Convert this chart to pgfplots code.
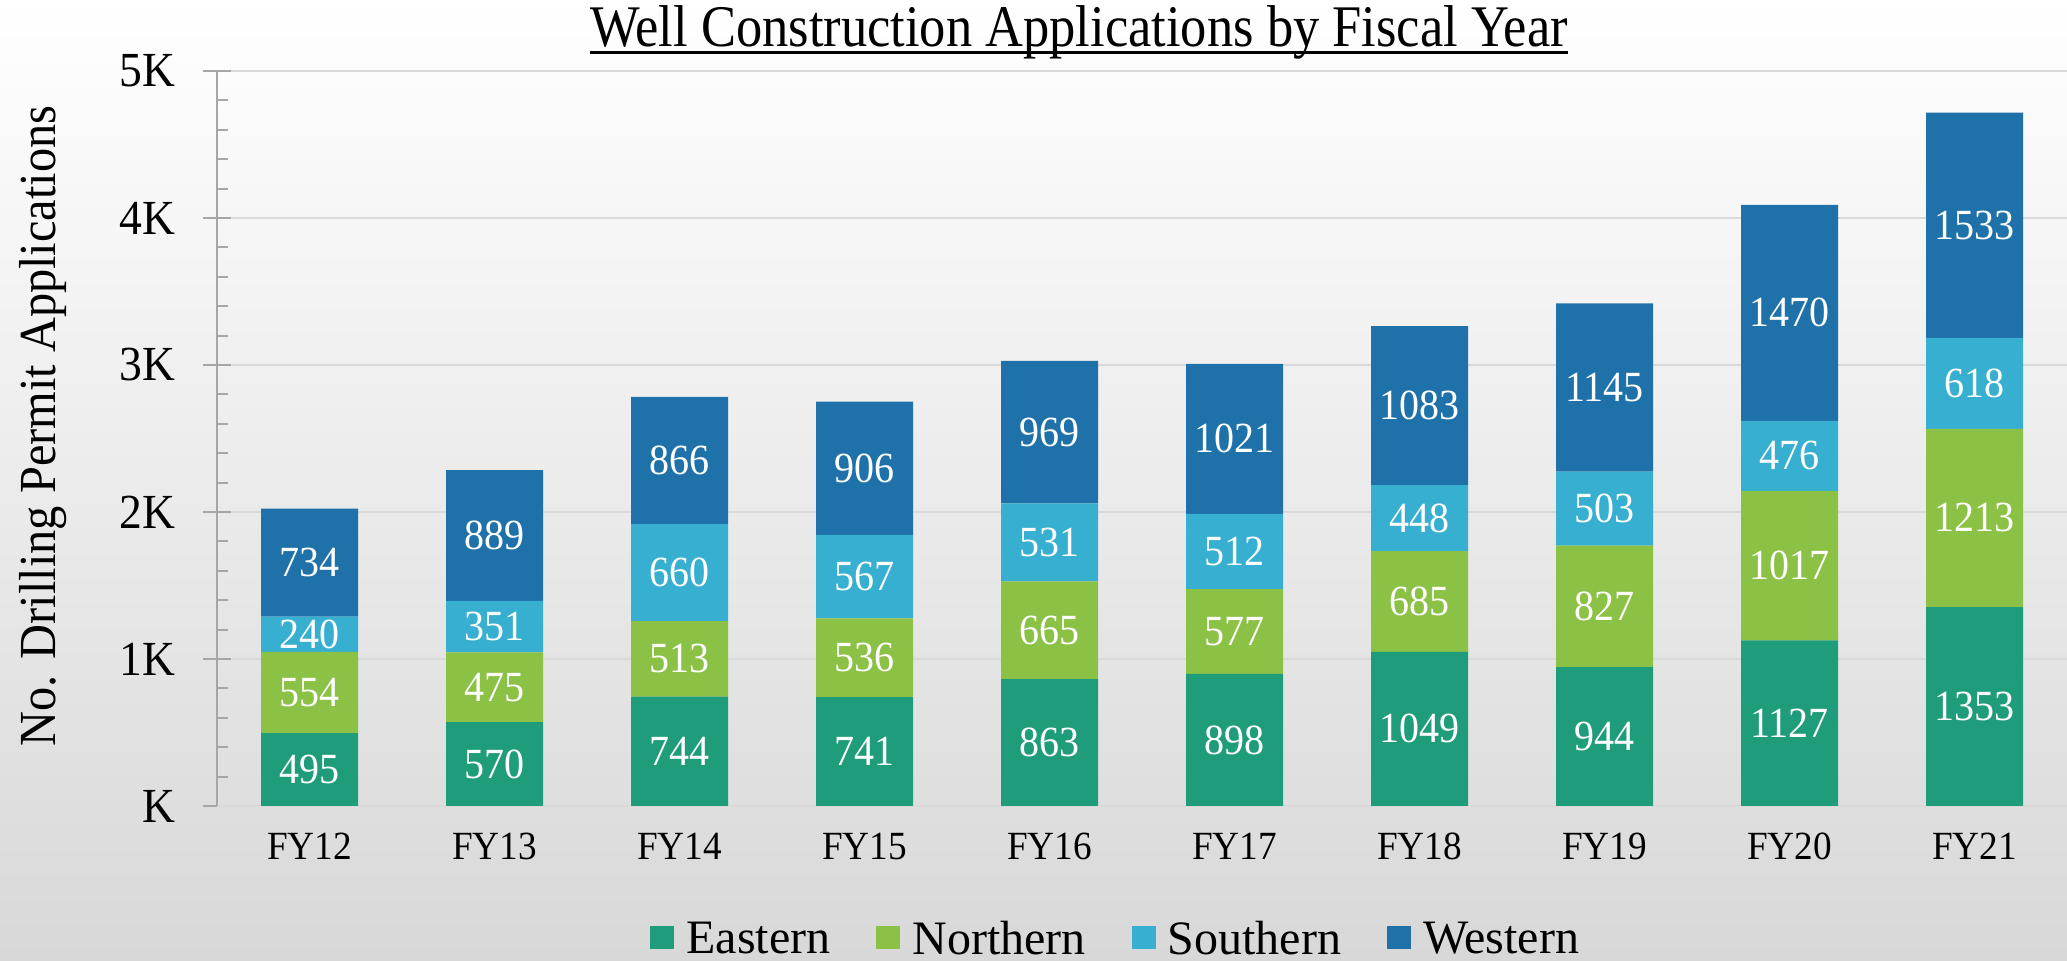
\documentclass[border=0pt]{standalone}
\usepackage{fontspec}
\setmainfont{Liberation Serif}[FakeStretch=0.93]
\newfontfamily\titlefont{Liberation Serif}[FakeStretch=0.89]
\newfontfamily\legfont{Liberation Serif}
\usepackage{pgfplots}
\usepackage{pgfplotstable}
\pgfplotsset{compat=1.18}
\definecolor{cE}{HTML}{1F9D7A}
\definecolor{cN}{HTML}{8BC145}
\definecolor{cS}{HTML}{37AFD0}
\definecolor{cW}{HTML}{1F71AA}
\definecolor{gridc}{HTML}{D9D9D9}
\definecolor{axc}{HTML}{A6A6A6}
\definecolor{bgmid}{HTML}{F2F2F2}
\definecolor{bgbot}{HTML}{D8D8D8}
\pgfplotstableread{
x E N S W
0 495 554 240 734
1 570 475 351 889
2 744 513 660 866
3 741 536 567 906
4 863 665 531 969
5 898 577 512 1021
6 1049 685 448 1083
7 944 827 503 1145
8 1127 1017 476 1470
9 1353 1213 618 1533
}\data
\pgfplotstablecreatecol[create col/expr={\thisrow{E}/2}]{mE}{\data}
\pgfplotstablecreatecol[create col/expr={\thisrow{E}+\thisrow{N}/2}]{mN}{\data}
\pgfplotstablecreatecol[create col/expr={\thisrow{E}+\thisrow{N}+\thisrow{S}/2}]{mS}{\data}
\pgfplotstablecreatecol[create col/expr={\thisrow{E}+\thisrow{N}+\thisrow{S}+\thisrow{W}/2}]{mW}{\data}
\begin{document}
\begin{tikzpicture}
\shade[top color=white, middle color=bgmid, bottom color=bgbot] (0,0) rectangle (1033.5pt,480.5pt);
\useasboundingbox (0,0) rectangle (1033.5pt,480.5pt);
\pgfplotsset{geom/.style={at={(108.5pt,77.5pt)}, anchor=south west,
  scale only axis, width=925pt, height=367.5pt,
  xmin=-0.5, xmax=9.5, ymin=0, ymax=5000, clip=false}}
\begin{axis}[
  geom,
  ybar stacked, bar width=48.5pt,
  axis y line*=left, axis x line*=bottom,
  y axis line style={draw=axc, line width=1pt},
  x axis line style={draw=gridc, line width=1pt},
  ytick={0,1000,2000,3000,4000,5000},
  yticklabels={K,1K,2K,3K,4K,5K},
  minor y tick num=4,
  ymajorgrids, major grid style={draw=gridc, line width=1pt},
  tick align=center,
  major tick length=14pt, minor tick length=5.5pt,
  tick style={draw=axc, line width=1pt},
  every minor tick/.append style={xshift=2.75pt},
  xtick={0,1,2,3,4,5,6,7,8,9},
  xticklabels={FY12,FY13,FY14,FY15,FY16,FY17,FY18,FY19,FY20,FY21},
  xtick style={draw=none},
  xticklabel style={font=\fontsize{20}{24}\selectfont, inner sep=0pt, anchor=north, yshift=-6.5pt},
  yticklabel style={font=\fontsize{24.5}{29}\selectfont, inner sep=0pt, anchor=east, xshift=-13.5pt},
  every axis plot post/.append style={legend image code/.code={\fill[##1] (0pt,-5.75pt) rectangle (12pt,5.75pt);}},
  legend columns=4,
  legend style={at={(0.2341,-0.2027)}, anchor=south west, draw=none, fill=none, inner sep=0pt,
    font=\legfont\fontsize{24}{28}\selectfont, cells={anchor=center}, nodes={inner sep=0pt, text depth=0pt},
    /tikz/every odd column/.append style={column sep=6pt},
    /tikz/every even column/.append style={column sep=23pt}},
]
\addplot[fill=cE, draw=none] table[x=x, y=E] {\data};
\addplot[fill=cN, draw=none] table[x=x, y=N] {\data};
\addplot[fill=cS, draw=none] table[x=x, y=S] {\data};
\addplot[fill=cW, draw=none] table[x=x, y=W] {\data};
\legend{Eastern,Northern,Southern,Western}
\end{axis}
\begin{axis}[
  geom, hide axis,
  nodes near coords,
  every node near coord/.append style={anchor=center, text=white, font=\fontsize{21.5}{25}\selectfont, inner sep=0pt},
  lab/.style={only marks, mark=*, mark size=0pt, point meta=explicit symbolic},
]
\addplot[lab] table[x=x, y=mE, meta=E] {\data};
\addplot[lab] table[x=x, y=mN, meta=N] {\data};
\addplot[lab] table[x=x, y=mS, meta=S] {\data};
\addplot[lab] table[x=x, y=mW, meta=W] {\data};
\end{axis}
\node[anchor=base, inner sep=0pt, font=\titlefont\fontsize{29.5}{35}\selectfont] (T) at (539.5pt,457pt) {Well Construction Applications by Fiscal Year};
\draw[line width=1.3pt] ([yshift=-2.7pt]T.base west) -- ([yshift=-2.7pt]T.base east);
\node[anchor=base, rotate=90, inner sep=0pt, font=\fontsize{26}{31}\selectfont] at (27.5pt,267.5pt) {No. Drilling Permit Applications};
\end{tikzpicture}
\end{document}
